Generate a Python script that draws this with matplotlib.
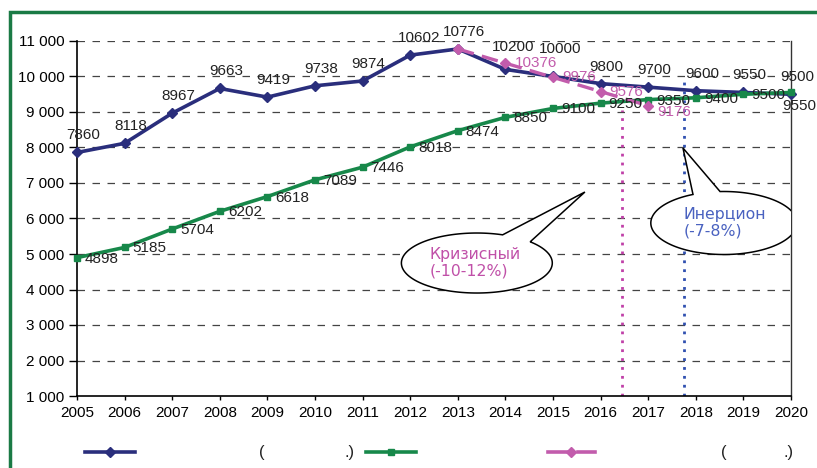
import numpy as np
import matplotlib
matplotlib.use('Agg')
import matplotlib.pyplot as plt
from matplotlib.patches import Polygon, Rectangle
from matplotlib.lines import Line2D
from matplotlib.ticker import FuncFormatter

plt.rcParams['font.family'] = ['Liberation Sans', 'DejaVu Sans']

years = list(range(2005, 2021))
base = [7860, 8118, 8967, 9663, 9419, 9738, 9874, 10602, 10776,
        10200, 10000, 9800, 9700, 9600, 9550, 9500]
inert = [4898, 5185, 5704, 6202, 6618, 7089, 7446, 8018, 8474,
         8850, 9100, 9250, 9350, 9400, 9500, 9550]
crisis_years = [2013, 2014, 2015, 2016, 2017]
crisis = [10776, 10376, 9976, 9576, 9176]

crisis_x, crisis_top = 2016.45, 9050
inert_x, inert_top = 2017.75, 10000

BLUE = '#2a2e7c'
GREEN = '#17884a'
PINK = '#c25cac'

W, H = 817, 468
fig = plt.figure(figsize=(W / 100, H / 100), dpi=100)
ax = fig.add_axes([77 / W, 1 - 396 / H, (791 - 77) / W, (396 - 41) / H])


def px(x, y):
    return x / W, 1 - y / H


ax.set_xlim(2005, 2020)
ax.set_ylim(1000, 11000)
ax.set_xticks(years)
ax.set_yticks(range(1000, 12000, 1000))
ax.yaxis.set_major_formatter(FuncFormatter(lambda v, p: f'{int(v):,}'.replace(',', ' ')))
ax.tick_params(labelsize=11, width=1, color='black')
ax.tick_params(axis='y', length=6, pad=3)
ax.tick_params(axis='x', length=3, pad=4)
for y in range(2000, 12000, 1000):
    ax.axhline(y, color='#444444', lw=0.9, dashes=(6, 6), zorder=1)
ax.spines['top'].set_visible(False)
for s in ['left', 'bottom']:
    ax.spines[s].set_color('black')
    ax.spines[s].set_linewidth(1.2)
ax.spines['right'].set_color('#333333')
ax.spines['right'].set_linewidth(1)

# vertical scenario markers
ax.plot([crisis_x, crisis_x], [1000, crisis_top], color='#c040a8', lw=2,
        linestyle=(0, (1, 2.2)), zorder=2)
ax.plot([inert_x, inert_x], [1000, inert_top], color='#3050b0', lw=2,
        linestyle=(0, (1, 2.2)), zorder=2)

ax.plot(years, base, color=BLUE, lw=2.6, marker='D', ms=5, zorder=4, clip_on=False)
ax.plot(crisis_years, crisis, color=PINK, lw=2.4, dashes=(5, 2.5), marker='D', ms=5,
        zorder=5, clip_on=False)
ax.plot(years, inert, color=GREEN, lw=2.6, marker='s', ms=5, zorder=4, clip_on=False)

blue_off = {2012: (9, 17), 2014: (8, 22), 2015: (7, 27)}
for x, v in zip(years, base):
    dx, dy = blue_off.get(x, (6, 17))
    ax.annotate(str(v), (x, v), xytext=(dx, dy), textcoords='offset pixels',
                ha='center', va='center', fontsize=11, color='#222222', zorder=7)

for x, v in zip(years, inert):
    if x == 2020:
        ax.annotate(str(v), (x, v), xytext=(8, -14), textcoords='offset pixels',
                    ha='center', va='center', fontsize=11, color='#222222', zorder=7,
                    annotation_clip=False)
    else:
        ax.annotate(str(v), (x, v), xytext=(8, -1), textcoords='offset pixels',
                    ha='left', va='center', fontsize=11, color='#222222', zorder=7)

for x, v in zip(crisis_years[1:], crisis[1:]):
    dy = -6 if x == 2017 else 0
    ax.annotate(str(v), (x, v), xytext=(9, dy), textcoords='offset pixels',
                ha='left', va='center', fontsize=11, color=PINK, zorder=7)


def callout(cx, cy, w, h, a1, a2, tip):
    t = np.radians(np.linspace(a2, a1 + 360, 300))
    pts = list(zip(cx + w / 2 * np.cos(t), cy + h / 2 * np.sin(t))) + [tip]
    ax.add_patch(Polygon(pts, closed=True, facecolor='white', edgecolor='black',
                         lw=1.1, zorder=6))


callout(2013.40, 4746, 3.17, 1690, 45, 70, (2015.67, 6746))
ax.text(2012.40, 4746, 'Кризисный\n(-10-12%)', color='#c050a8', fontsize=11.3,
        family='DejaVu Sans', ha='left', va='center', zorder=7, linespacing=1.15)

callout(2018.59, 5873, 3.07, 1775, 93, 115, (2017.73, 7986))
ax.text(2017.75, 5873, 'Инерцион\n(-7-8%)', color='#4a62c0', fontsize=11.3,
        family='DejaVu Sans', ha='left', va='center', zorder=7, linespacing=1.15)

# legend drawn by hand
ly = 452
fig.add_artist(Line2D(*zip(px(85, ly), px(135, ly)), color=BLUE, lw=2.6))
fig.add_artist(Line2D(*zip(px(110, ly)), color=BLUE, marker='D', ms=5))
fig.add_artist(Line2D(*zip(px(366, ly), px(416, ly)), color=GREEN, lw=2.6))
fig.add_artist(Line2D(*zip(px(391, ly)), color=GREEN, marker='s', ms=5))
fig.add_artist(Line2D(*zip(px(548, ly), px(568, ly)), color=PINK, lw=2.6))
fig.add_artist(Line2D(*zip(px(578, ly), px(595, ly)), color=PINK, lw=2.6))
fig.add_artist(Line2D(*zip(px(571, ly)), color=PINK, marker='D', ms=5))
for x, s in [(262, '('), (350, '.)'), (724, '('), (789, '.)')]:
    fig.text(*px(x, ly), s, fontsize=12, ha='center', va='center', color='#222222')

fig.add_artist(Rectangle(px(10, 520), 2, (520 - 12) / H, transform=fig.transFigure,
                         fill=False, edgecolor='#1a7a45', lw=2.5))

fig.savefig('out.png', dpi=100)
